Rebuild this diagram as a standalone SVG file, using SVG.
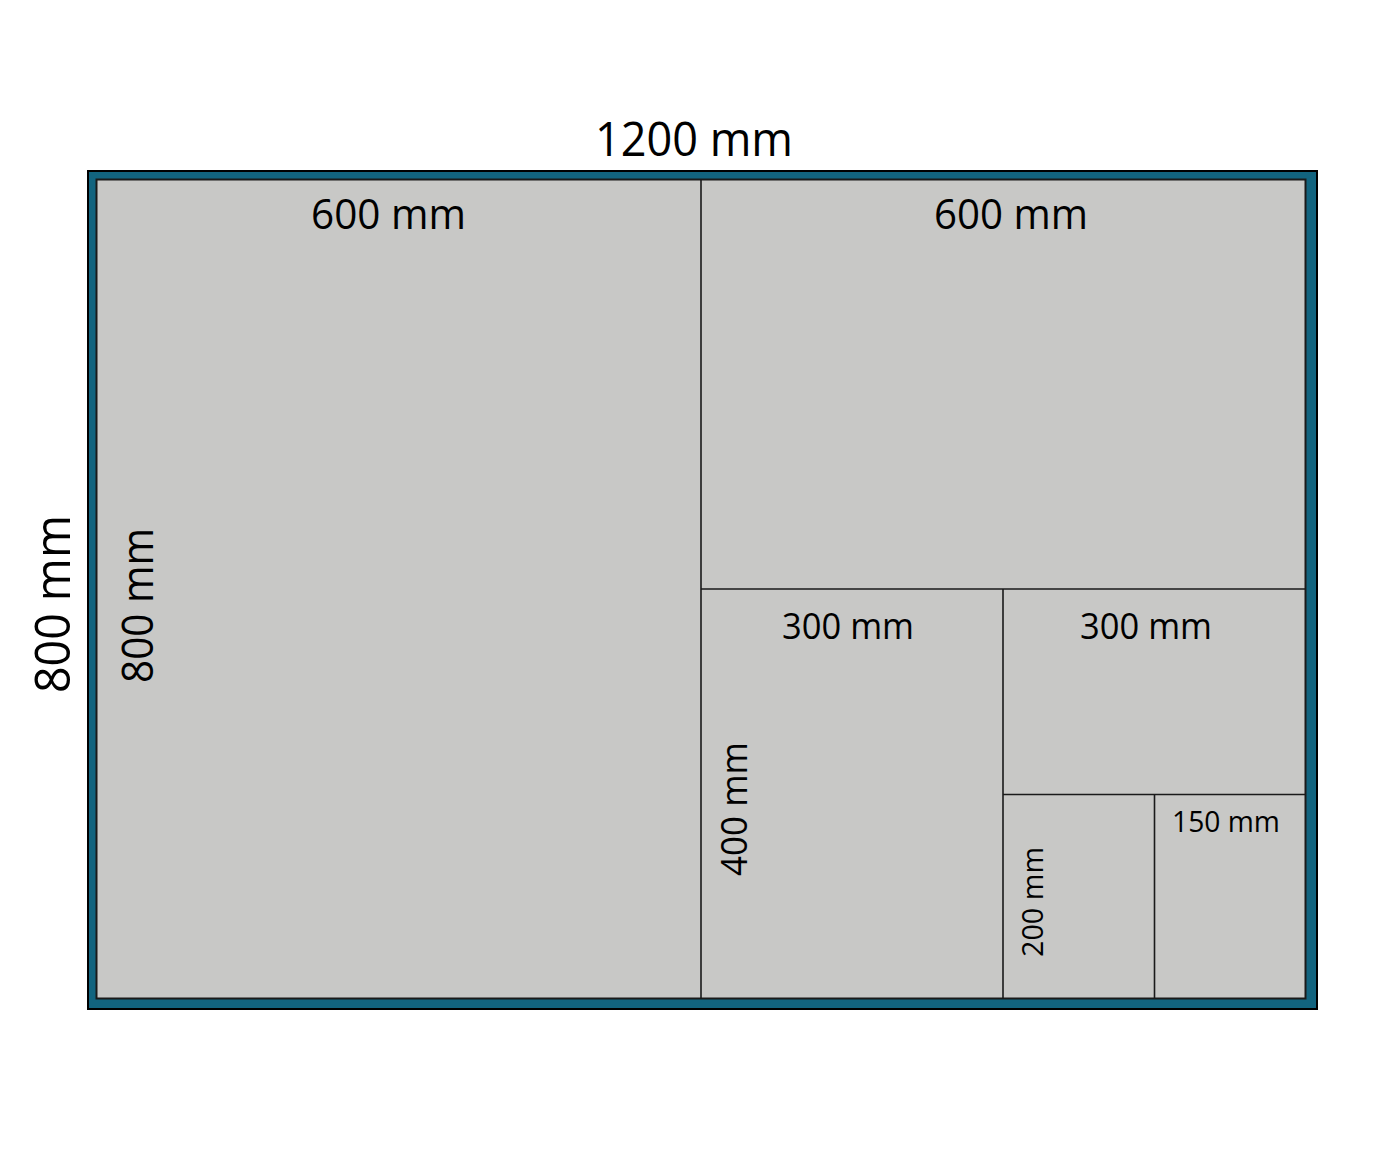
<svg xmlns="http://www.w3.org/2000/svg" width="1386" height="1166" viewBox="0 0 1386 1166">
<style>
  .t { font-family: "Open Sans", "Liberation Sans", sans-serif; fill: #000; text-anchor: middle; }
  .ln { stroke: #1a1a1a; stroke-width: 1.6; fill: none; }
</style>
<rect width="1386" height="1166" fill="#ffffff"/>
<g id="frame">
  <rect x="88" y="171" width="1229" height="838" fill="#12647f" stroke="#000" stroke-width="2"/>
  <rect x="96.5" y="179.5" width="1209" height="819" fill="#c8c8c6" stroke="#1a1a1a" stroke-width="2"/>
</g>
<g id="connectors">
  <line class="ln" x1="701" y1="179.5" x2="701" y2="998.5"/>
  <line class="ln" x1="701" y1="589" x2="1305.5" y2="589"/>
  <line class="ln" x1="1003" y1="589" x2="1003" y2="998.5"/>
  <line class="ln" x1="1003" y1="794.5" x2="1305.5" y2="794.5"/>
  <line class="ln" x1="1154.5" y1="794.5" x2="1154.5" y2="998.5"/>
</g>
<g id="labels">
  <text class="t" x="694" y="156" font-size="48" textLength="198" lengthAdjust="spacingAndGlyphs">1200 mm</text>
  <text class="t" x="388.5" y="229" font-size="42" textLength="155" lengthAdjust="spacingAndGlyphs">600 mm</text>
  <text class="t" x="1011" y="229" font-size="42" textLength="154" lengthAdjust="spacingAndGlyphs">600 mm</text>
  <text class="t" x="848" y="639" font-size="36" textLength="132" lengthAdjust="spacingAndGlyphs">300 mm</text>
  <text class="t" x="1146" y="639" font-size="36" textLength="132" lengthAdjust="spacingAndGlyphs">300 mm</text>
  <text class="t" x="1226" y="832" font-size="29" textLength="108" lengthAdjust="spacingAndGlyphs">150 mm</text>
  <text class="t" transform="translate(70,604) rotate(-90)" font-size="50" textLength="178" lengthAdjust="spacingAndGlyphs">800 mm</text>
  <text class="t" transform="translate(153,605.5) rotate(-90)" font-size="43" textLength="155" lengthAdjust="spacingAndGlyphs">800 mm</text>
  <text class="t" transform="translate(747,809) rotate(-90)" font-size="36" textLength="134" lengthAdjust="spacingAndGlyphs">400 mm</text>
  <text class="t" transform="translate(1043,902) rotate(-90)" font-size="29" textLength="110" lengthAdjust="spacingAndGlyphs">200 mm</text>
</g>
</svg>
